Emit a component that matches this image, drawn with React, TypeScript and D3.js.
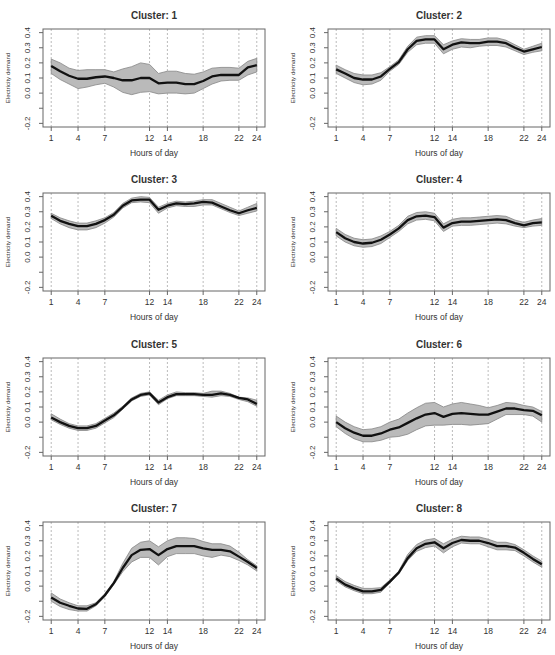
import * as d3 from 'd3';

// hourly profiles: mean curve plus lower / upper envelope per cluster
const hours = [1, 2, 3, 4, 5, 6, 7, 8, 9, 10, 11, 12, 13, 14, 15, 16, 17, 18, 19, 20, 21, 22, 23, 24];
const hourTicks = [1, 4, 7, 12, 14, 18, 22, 24];
const demandTicks = [-0.2, -0.1, 0, 0.1, 0.2, 0.3, 0.4];
const demandTickLabels = ['-0.2', '', '0.0', '0.1', '0.2', '0.3', '0.4'];

const mean1 = [0.18, 0.145, 0.115, 0.095, 0.095, 0.105, 0.11, 0.10, 0.085, 0.085, 0.10, 0.10, 0.065, 0.07, 0.07, 0.06, 0.06, 0.08, 0.11, 0.12, 0.12, 0.12, 0.17, 0.185];
const upper1 = [0.225, 0.20, 0.165, 0.15, 0.155, 0.155, 0.155, 0.14, 0.16, 0.175, 0.20, 0.19, 0.13, 0.145, 0.145, 0.13, 0.125, 0.14, 0.165, 0.17, 0.17, 0.165, 0.21, 0.23];
const lower1 = [0.13, 0.09, 0.06, 0.03, 0.04, 0.055, 0.065, 0.04, 0.005, -0.01, 0.005, 0.01, -0.005, 0.0, 0.0, -0.005, 0.0, 0.03, 0.06, 0.08, 0.085, 0.085, 0.12, 0.14];

const mean2 = [0.157, 0.13, 0.10, 0.09, 0.09, 0.11, 0.16, 0.205, 0.29, 0.345, 0.355, 0.355, 0.29, 0.32, 0.335, 0.33, 0.33, 0.34, 0.34, 0.33, 0.30, 0.275, 0.29, 0.305];
const upper2 = [0.185, 0.155, 0.13, 0.12, 0.12, 0.135, 0.175, 0.22, 0.31, 0.37, 0.38, 0.38, 0.32, 0.345, 0.36, 0.355, 0.355, 0.365, 0.365, 0.35, 0.32, 0.29, 0.31, 0.33];
const lower2 = [0.13, 0.10, 0.07, 0.055, 0.06, 0.085, 0.145, 0.19, 0.27, 0.32, 0.33, 0.33, 0.26, 0.29, 0.305, 0.30, 0.31, 0.315, 0.315, 0.305, 0.28, 0.255, 0.27, 0.28];

const mean3 = [0.273, 0.24, 0.22, 0.205, 0.205, 0.22, 0.245, 0.28, 0.34, 0.375, 0.38, 0.38, 0.313, 0.34, 0.355, 0.35, 0.355, 0.365, 0.36, 0.335, 0.31, 0.29, 0.31, 0.325];
const upper3 = [0.29, 0.26, 0.24, 0.225, 0.225, 0.24, 0.26, 0.295, 0.355, 0.39, 0.40, 0.395, 0.33, 0.355, 0.37, 0.365, 0.37, 0.38, 0.38, 0.355, 0.33, 0.305, 0.33, 0.355];
const lower3 = [0.255, 0.22, 0.195, 0.18, 0.18, 0.195, 0.225, 0.265, 0.325, 0.36, 0.365, 0.36, 0.29, 0.325, 0.34, 0.335, 0.335, 0.345, 0.345, 0.32, 0.295, 0.275, 0.29, 0.305];

const mean4 = [0.165, 0.125, 0.10, 0.09, 0.095, 0.115, 0.15, 0.19, 0.245, 0.27, 0.275, 0.265, 0.195, 0.225, 0.235, 0.235, 0.24, 0.245, 0.25, 0.245, 0.225, 0.21, 0.225, 0.23];
const upper4 = [0.19, 0.15, 0.125, 0.115, 0.12, 0.14, 0.17, 0.21, 0.27, 0.295, 0.30, 0.29, 0.22, 0.25, 0.26, 0.26, 0.265, 0.27, 0.275, 0.27, 0.245, 0.23, 0.245, 0.255];
const lower4 = [0.14, 0.10, 0.075, 0.065, 0.07, 0.09, 0.13, 0.17, 0.22, 0.245, 0.25, 0.24, 0.17, 0.205, 0.21, 0.21, 0.215, 0.22, 0.225, 0.22, 0.205, 0.195, 0.205, 0.21];

const mean5 = [0.03, 0.0, -0.025, -0.04, -0.04, -0.025, 0.01, 0.045, 0.095, 0.15, 0.18, 0.19, 0.13, 0.165, 0.185, 0.185, 0.185, 0.18, 0.18, 0.19, 0.18, 0.16, 0.15, 0.12];
const upper5 = [0.055, 0.02, -0.01, -0.025, -0.025, -0.01, 0.025, 0.06, 0.105, 0.16, 0.19, 0.20, 0.145, 0.18, 0.20, 0.195, 0.195, 0.19, 0.205, 0.205, 0.19, 0.165, 0.16, 0.145];
const lower5 = [0.015, -0.015, -0.04, -0.055, -0.055, -0.04, -0.005, 0.03, 0.085, 0.14, 0.17, 0.18, 0.115, 0.155, 0.175, 0.175, 0.175, 0.17, 0.165, 0.175, 0.17, 0.15, 0.135, 0.105];

const mean6 = [0.0, -0.04, -0.07, -0.09, -0.09, -0.075, -0.05, -0.035, -0.005, 0.025, 0.05, 0.06, 0.035, 0.055, 0.06, 0.055, 0.05, 0.05, 0.07, 0.09, 0.09, 0.08, 0.075, 0.045];
const upper6 = [0.04, 0.0, -0.03, -0.05, -0.045, -0.03, 0.0, 0.02, 0.06, 0.095, 0.125, 0.13, 0.10, 0.12, 0.13, 0.12, 0.11, 0.095, 0.11, 0.13, 0.125, 0.11, 0.10, 0.07];
const lower6 = [-0.03, -0.075, -0.11, -0.13, -0.13, -0.12, -0.10, -0.095, -0.08, -0.05, -0.025, -0.02, -0.02, -0.015, -0.015, -0.02, -0.015, -0.01, 0.02, 0.05, 0.05, 0.05, 0.04, 0.0];

const mean7 = [-0.075, -0.11, -0.13, -0.148, -0.15, -0.12, -0.06, 0.02, 0.12, 0.205, 0.24, 0.245, 0.205, 0.245, 0.265, 0.265, 0.265, 0.25, 0.24, 0.24, 0.23, 0.195, 0.16, 0.12];
const upper7 = [-0.045, -0.085, -0.11, -0.13, -0.13, -0.11, -0.05, 0.03, 0.15, 0.25, 0.29, 0.30, 0.26, 0.30, 0.32, 0.32, 0.315, 0.295, 0.28, 0.28, 0.265, 0.225, 0.175, 0.135];
const lower7 = [-0.10, -0.135, -0.155, -0.165, -0.165, -0.13, -0.07, 0.01, 0.095, 0.16, 0.19, 0.19, 0.14, 0.195, 0.215, 0.215, 0.215, 0.20, 0.19, 0.205, 0.195, 0.17, 0.14, 0.10];

const mean8 = [0.05, 0.01, -0.015, -0.035, -0.035, -0.025, 0.03, 0.09, 0.185, 0.25, 0.28, 0.29, 0.25, 0.285, 0.305, 0.30, 0.30, 0.285, 0.265, 0.265, 0.255, 0.22, 0.18, 0.145];
const upper8 = [0.07, 0.03, 0.005, -0.015, -0.015, -0.01, 0.04, 0.10, 0.21, 0.275, 0.305, 0.315, 0.28, 0.31, 0.33, 0.325, 0.325, 0.31, 0.29, 0.29, 0.275, 0.24, 0.20, 0.165];
const lower8 = [0.035, -0.005, -0.03, -0.05, -0.05, -0.04, 0.02, 0.08, 0.17, 0.23, 0.255, 0.265, 0.22, 0.26, 0.285, 0.28, 0.28, 0.26, 0.24, 0.24, 0.235, 0.20, 0.16, 0.125];

const clusters = [
  { id: 1, mean: mean1, lower: lower1, upper: upper1 },
  { id: 2, mean: mean2, lower: lower2, upper: upper2 },
  { id: 3, mean: mean3, lower: lower3, upper: upper3 },
  { id: 4, mean: mean4, lower: lower4, upper: upper4 },
  { id: 5, mean: mean5, lower: lower5, upper: upper5 },
  { id: 6, mean: mean6, lower: lower6, upper: upper6 },
  { id: 7, mean: mean7, lower: lower7, upper: upper7 },
  { id: 8, mean: mean8, lower: lower8, upper: upper8 },
];

const WIDTH = 555;
const HEIGHT = 655;
const COL_X = [43, 328];
const ROW_Y = [29, 193, 358, 522];
const BOX_W = 222;
const BOX_H = 98;
const FONT = 'Liberation Sans, Arial, Helvetica, sans-serif';
const TEXT = '#333';

// R-style 4% padding on both axes
const x = d3.scaleLinear().domain([1 - 0.92, 24 + 0.92]).range([0, BOX_W]);
const y = d3.scaleLinear().domain([-0.224, 0.424]).range([BOX_H, 0]);

type Cluster = (typeof clusters)[number];

function Panel({ c, left, top }: { c: Cluster; left: number; top: number }) {
  const band = d3.area<number>()
    .x((h) => x(h))
    .y0((_, i) => y(c.lower[i]))
    .y1((_, i) => y(c.upper[i]));
  const line = d3.line<number>()
    .x((h) => x(h))
    .y((_, i) => y(c.mean[i]));

  return (
    <g transform={`translate(${left},${top})`} fontFamily={FONT} fill={TEXT}>
      <text x={BOX_W / 2} y={-10} textAnchor="middle" fontSize={10} fontWeight="bold">
        Cluster: {c.id}
      </text>

      {hourTicks.map((h) => (
        <line key={'g' + h} x1={x(h)} x2={x(h)} y1={0} y2={BOX_H}
          stroke="#aaa" strokeWidth={0.8} strokeDasharray="2,2" />
      ))}

      <path d={band(hours) ?? ''} fill="#bababa" stroke="#858585" strokeWidth={0.8} />
      <path d={line(hours) ?? ''} fill="none" stroke="#111" strokeWidth={2.3} strokeLinejoin="round" />

      <rect x={0} y={0} width={BOX_W} height={BOX_H} fill="none" stroke="#666" strokeWidth={1} />

      {/* x axis */}
      {hourTicks.map((h) => (
        <g key={'x' + h} transform={`translate(${x(h)},${BOX_H})`}>
          <line y1={0} y2={4} stroke="#666" />
          <text y={14} textAnchor="middle" fontSize={8.5}>{h}</text>
        </g>
      ))}
      <text x={BOX_W / 2} y={BOX_H + 29} textAnchor="middle" fontSize={8.5}>Hours of day</text>

      {/* y axis */}
      {demandTicks.map((v, i) => (
        <g key={'y' + v} transform={`translate(0,${y(v)})`}>
          <line x1={-4} x2={0} stroke="#666" />
          <text transform="translate(-16,0) rotate(-90)" textAnchor="middle" dy="0.35em" fontSize={8}>
            {demandTickLabels[i]}
          </text>
        </g>
      ))}
      <text transform={`translate(-35,${BOX_H / 2}) rotate(-90)`} textAnchor="middle" dy="0.35em" fontSize={6.2}>
        Electricity demand
      </text>
    </g>
  );
}

export default function App() {
  return (
    <div style={{ position: 'absolute', left: 0, top: 0 }}>
      <svg width={WIDTH} height={HEIGHT} style={{ display: 'block', background: '#fff' }}>
        {clusters.map((c, i) => (
          <Panel key={c.id} c={c} left={COL_X[i % 2]} top={ROW_Y[Math.floor(i / 2)]} />
        ))}
      </svg>
    </div>
  );
}
